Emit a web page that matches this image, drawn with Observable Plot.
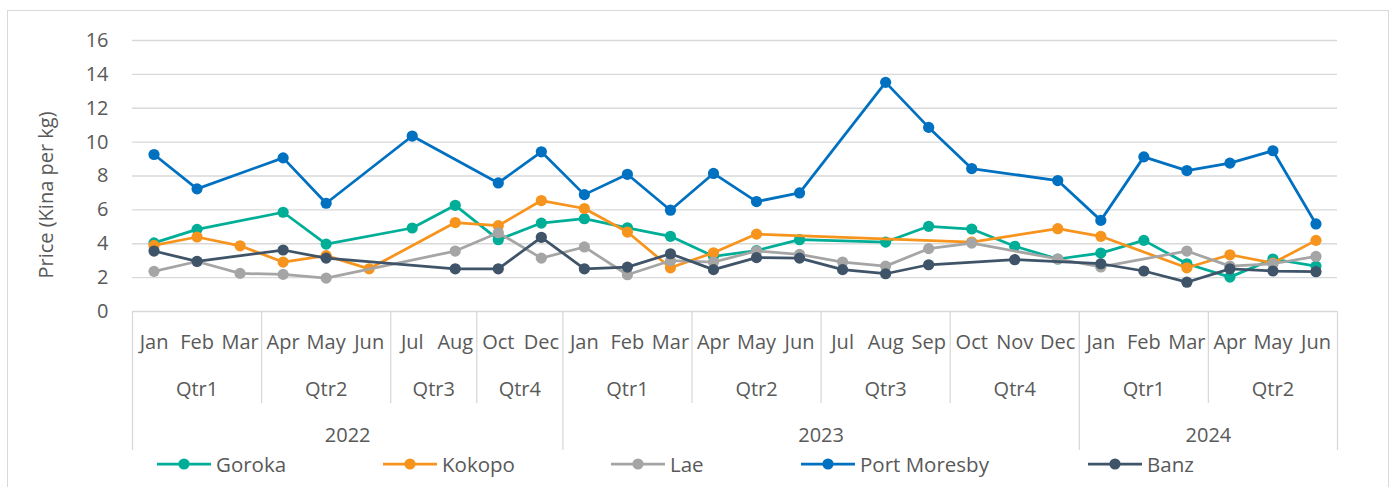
<!DOCTYPE html>
<html><head><meta charset="utf-8">
<script src="https://cdn.jsdelivr.net/npm/d3@7"></script>
<script src="https://cdn.jsdelivr.net/npm/@observablehq/plot@0.6"></script>
<style>
body{margin:0;background:#fff;font-family:"Open Sans",sans-serif;}
#frame{position:absolute;left:7px;top:10px;width:1380px;height:490px;border:1px solid #D9D9D9;box-sizing:content-box;overflow:hidden;}
#chart svg{display:block;}
#legend{position:relative;height:26px;}
.item{position:absolute;top:0;height:26px;display:flex;align-items:center;font-size:20.5px;color:#595959;white-space:nowrap;}
.item svg{margin-right:5px;}
</style></head><body>
<div id="frame"><div id="chart"></div><div id="legend"></div></div>
<script>
// ---- data ----
const years = ["2022", "2023", "2024"];
const months2022 = ["Jan","Feb","Mar","Apr","May","Jun","Jul","Aug","Oct","Dec"];
const months2023 = ["Jan","Feb","Mar","Apr","May","Jun","Jul","Aug","Sep","Oct","Nov","Dec"];
const months2024 = ["Jan","Feb","Mar","Apr","May","Jun"];
const yTicks = [0, 2, 4, 6, 8, 10, 12, 14, 16];
const seriesNames = ["Goroka", "Kokopo", "Lae", "Port Moresby", "Banz"];
const seriesColors = ["#00AE97", "#F7941D", "#A5A5A5", "#0070C0", "#3F5468"];

const goroka = [4.05, 4.85, null, 5.86, 3.98, null, 4.93, 6.27, 4.24, 5.22,
  5.48, 4.94, 4.44, 3.26, 3.6, 4.24, null, 4.1, 5.03, 4.87, 3.85, 3.1,
  3.45, 4.2, 2.82, 2.03, 3.1, 2.68];
const kokopo = [3.9, 4.4, 3.88, 2.92, 3.3, 2.52, null, 5.25, 5.07, 6.55,
  6.08, 4.69, 2.58, 3.47, 4.57, null, null, null, null, 4.1, null, 4.89,
  4.44, null, 2.58, 3.35, 2.86, 4.2];
const lae = [2.37, 2.95, 2.25, 2.19, 1.97, null, null, 3.57, 4.65, 3.15,
  3.81, 2.17, 3.0, 2.92, 3.57, 3.37, 2.92, 2.68, 3.71, 4.04, null, 3.1,
  2.63, null, 3.57, 2.68, 2.82, 3.25];
const portMoresby = [9.27, 7.24, null, 9.07, 6.39, null, 10.36, null, 7.59, 9.43,
  6.9, 8.1, 5.98, 8.15, 6.49, 7.0, null, 13.53, 10.87, 8.44, null, 7.73,
  5.38, 9.13, 8.32, 8.76, 9.49, 5.17];
const banz = [3.57, 2.96, null, 3.63, 3.15, null, null, 2.52, 2.52, 4.38,
  2.52, 2.62, 3.41, 2.47, 3.18, 3.15, 2.47, 2.23, 2.76, null, 3.06, null,
  2.82, 2.39, 1.73, 2.52, 2.39, 2.35];
const seriesValues = [goroka, kokopo, lae, portMoresby, banz];

// ---- derived tables ----
const monthIndex = m => months2023.indexOf(m);
const rows = [];
[months2022, months2023, months2024].forEach((ms, yi) => {
  ms.forEach(m => rows.push({year: years[yi], month: m, qtr: "Qtr" + (Math.floor(monthIndex(m) / 3) + 1)}));
});
rows.forEach((r, i) => { r.i = i; r.xc = i + 0.5; seriesNames.forEach((s, k) => r[s] = seriesValues[k][i]); });

function groups(keyFn, labelFn) {
  const out = [];
  rows.forEach(r => {
    const k = keyFn(r);
    const last = out[out.length - 1];
    if (last && last.key === k) last.end = r.i + 1;
    else out.push({key: k, label: labelFn(r), start: r.i, end: r.i + 1});
  });
  out.forEach(g => g.mid = (g.start + g.end) / 2);
  return out;
}
const qtrGroups = groups(r => r.year + r.qtr, r => r.qtr);
const yearGroups = groups(r => r.year, r => r.year);
const yearBounds = [0, ...yearGroups.map(g => g.end)];
const qtrBounds = qtrGroups.map(g => g.end).filter(b => !yearBounds.includes(b));

const txt = "#595959", grid = "#D9D9D9", fs = 20;
const marks = [
  Plot.ruleY(yTicks, {stroke: grid, strokeWidth: 1.3}),
  Plot.axisY({ticks: yTicks, tickSize: 0, tickPadding: 24, fontSize: fs, fill: txt, label: null}),
  Plot.text(["Price (Kina per kg)"], {frameAnchor: "left", textAnchor: "middle", rotate: -90, dx: -86, dy: 19, fontSize: fs, fill: txt}),
  Plot.ruleX(qtrBounds, {x: d => d, stroke: grid, strokeWidth: 1.3, insetTop: 271, insetBottom: -92}),
  Plot.ruleX(yearBounds, {x: d => d, stroke: grid, strokeWidth: 1.3, insetTop: 271, insetBottom: -139}),
  Plot.text(rows, {x: "xc", text: "month", frameAnchor: "bottom", dy: 31, lineAnchor: "middle", fontSize: fs, fill: txt}),
  Plot.text(qtrGroups, {x: "mid", text: "label", frameAnchor: "bottom", dy: 78, lineAnchor: "middle", fontSize: fs, fill: txt}),
  Plot.text(yearGroups, {x: "mid", text: "label", frameAnchor: "bottom", dy: 124, lineAnchor: "middle", fontSize: fs, fill: txt})
];
seriesNames.forEach((s, k) => {
  marks.push(Plot.line(rows, {filter: d => d[s] != null, x: "xc", y: s, stroke: seriesColors[k], strokeWidth: 2.75}));
  marks.push(Plot.dot(rows, {filter: d => d[s] != null, x: "xc", y: s, r: 5.6, fill: seriesColors[k], stroke: "none"}));
});

const chart = Plot.plot({
  width: 1380, height: 440,
  marginLeft: 124, marginRight: 51, marginTop: 29, marginBottom: 140,
  style: {fontFamily: "'Open Sans', sans-serif", background: "#fff", overflow: "visible"},
  x: {type: "linear", domain: [0, rows.length], axis: null},
  y: {domain: [0, 16], axis: null},
  marks
});
document.getElementById("chart").appendChild(chart);

// ---- legend ----
const legendLeft = [149, 375, 603, 793, 1080];
const legend = document.getElementById("legend");
seriesNames.forEach((s, k) => {
  const it = document.createElement("div");
  it.className = "item";
  it.style.left = legendLeft[k] + "px";
  it.innerHTML = `<svg width="54" height="14"><line x1="0" x2="54" y1="7" y2="7" stroke="${seriesColors[k]}" stroke-width="2.75"/><circle cx="27" cy="7" r="5.6" fill="${seriesColors[k]}"/></svg><span>${s}</span>`;
  legend.appendChild(it);
});
</script></body></html>
